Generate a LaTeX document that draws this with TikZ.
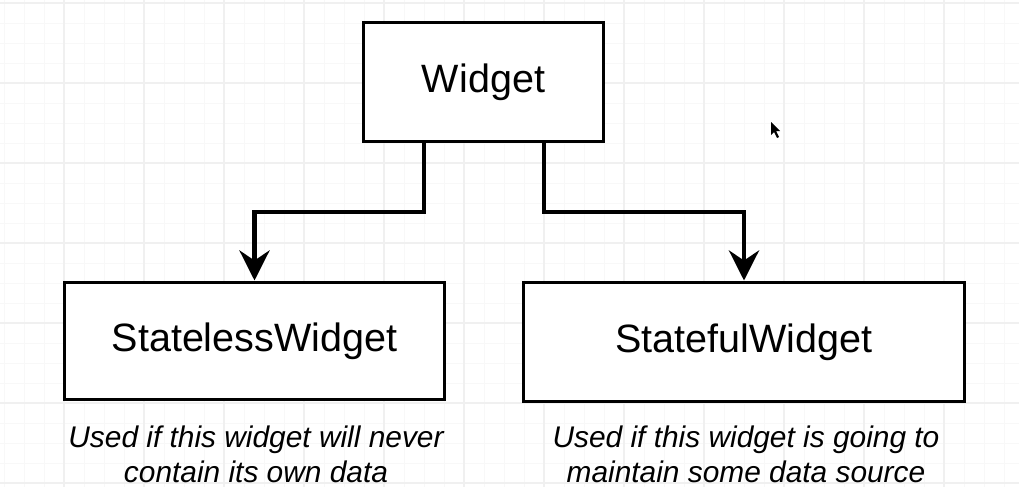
\documentclass[tikz,border=0pt]{standalone}
\usepackage{fontspec}
\setmainfont{Liberation Sans}
\usepackage{tikz}
\usetikzlibrary{positioning, arrows.meta}
\definecolor{gridminor}{RGB}{248,248,248}
\definecolor{gridmajor}{RGB}{240,240,240}
\tikzset{
  class/.style={draw=black,line width=1.7pt,fill=white,inner sep=0pt,
    font=\fontsize{22.5}{27}\selectfont},
  note/.style={align=center,font=\fontsize{17}{20}\selectfont\itshape},
  connect arrow/.style={-{Stealth[length=0.6cm,width=0.6cm,inset=0.2cm]},
    line width=2.8pt},
  grid minor/.style={gridminor,line width=0.5pt},
  grid major/.style={gridmajor,line width=1pt}
}
\begin{document}
\begin{tikzpicture}[x=0.02cm,y=-0.02cm]
  \useasboundingbox (0,0) rectangle (1019,487);
  \fill[white] (0,0) rectangle (1019,487);

  % Background grid
  \foreach \x in {4,24,...,1019} \draw[grid minor] (\x,0) -- (\x,487);
  \foreach \y in {3,23,...,487} \draw[grid minor] (0,\y) -- (1019,\y);
  \foreach \x in {64,144,...,1019} \draw[grid major] (\x,0) -- (\x,487);
  \foreach \y in {3,83,...,487} \draw[grid major] (0,\y) -- (1019,\y);

  % Classes
  \node[class,minimum width=4.82cm,minimum height=2.4cm] (widget) at (483.5,82) {Widget};
  \node[class,minimum width=7.62cm,minimum height=2.36cm] (stateless) at (254.5,341) {StatelessWidget};
  \node[class,minimum width=8.84cm,minimum height=2.4cm] (stateful) at (744,342) {StatefulWidget};

  % Notes
  \node[note] (stateless note) at (256,454) {Used if this widget will never\\contain its own data};
  \node[note] (stateful note) at (746,454) {Used if this widget is going to\\maintain some data source};

  % Inheritance arrows
  \coordinate (split) at (0,212);
  \draw[connect arrow] ([xshift=-1.19cm]widget.south) |- (split -| stateless.north) -- (stateless.north);
  \draw[connect arrow] ([xshift=1.21cm]widget.south) |- (split -| stateful.north) -- (stateful.north);

  % Mouse pointer
  \fill[black] (771,122) -- (771,135) -- (774,132) -- (777,138) -- (779,137) -- (776,131) -- (780,131) -- cycle;
\end{tikzpicture}
\end{document}
